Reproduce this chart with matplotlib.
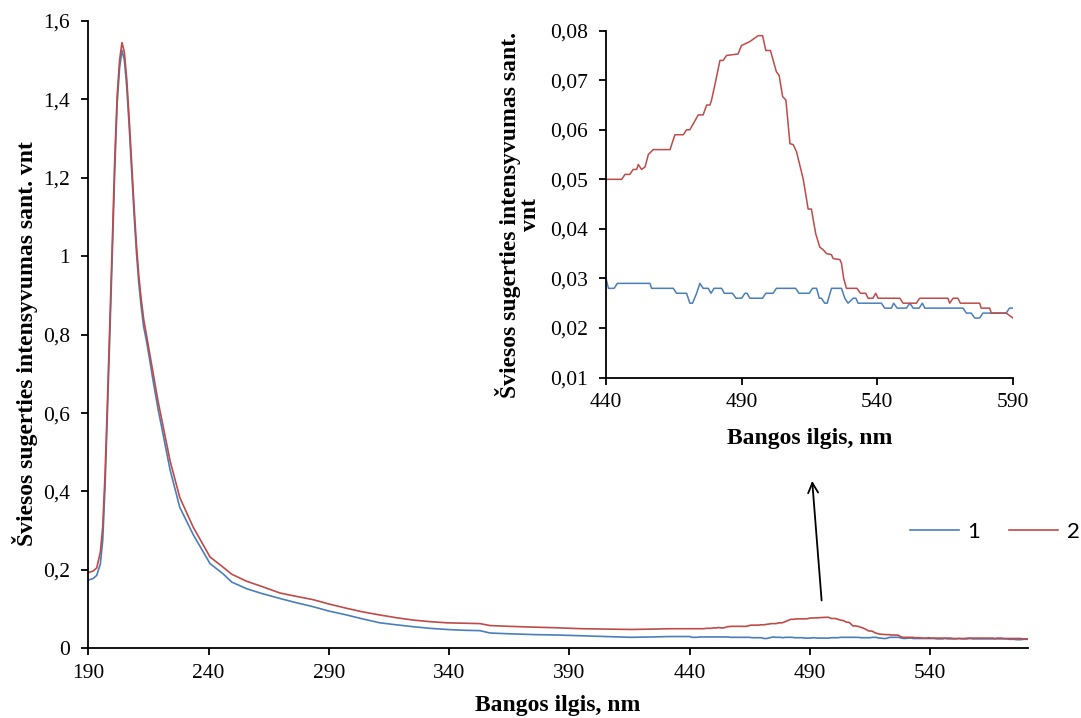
import numpy as np
import matplotlib
matplotlib.use("Agg")
import matplotlib.pyplot as plt
from matplotlib.ticker import FuncFormatter, MultipleLocator

plt.rcParams['font.family'] = ['Liberation Serif', 'DejaVu Serif']

# UV part of the spectrum (common wavelength grid for both samples)
wl_uv = [190, 192, 193.5, 195, 196, 197, 198, 199, 200, 201, 202, 203, 204, 205,
         206, 207, 208, 209, 210, 211, 212, 213, 214, 215, 217, 219, 224, 228,
         233.6, 240.6, 246, 249.6, 255.8, 262, 269.7, 276, 283.5, 290, 297.4,
         304, 311.2, 318, 325.1, 332, 339, 346, 352.8, 357, 365, 375, 384, 395,
         405, 415.6, 425, 431.5, 436]
s1_uv = [0.174, 0.178, 0.186, 0.215, 0.275, 0.42, 0.61, 0.81, 1.01, 1.22, 1.39,
         1.48, 1.525, 1.50, 1.43, 1.33, 1.22, 1.11, 1.01, 0.93, 0.87, 0.82, 0.79,
         0.755, 0.68, 0.61, 0.455, 0.36, 0.29, 0.216, 0.19, 0.169, 0.152, 0.140,
         0.127, 0.117, 0.106, 0.095, 0.085, 0.075, 0.065, 0.060, 0.055, 0.051,
         0.048, 0.046, 0.045, 0.039, 0.037, 0.035, 0.034, 0.032, 0.030, 0.028,
         0.029, 0.030, 0.030]
s2_uv = [0.193, 0.197, 0.205, 0.245, 0.31, 0.45, 0.64, 0.84, 1.04, 1.25, 1.41,
         1.50, 1.545, 1.52, 1.45, 1.35, 1.24, 1.13, 1.03, 0.95, 0.89, 0.84, 0.805,
         0.77, 0.70, 0.63, 0.478, 0.385, 0.309, 0.233, 0.207, 0.189, 0.171, 0.158,
         0.141, 0.133, 0.124, 0.113, 0.102, 0.093, 0.085, 0.078, 0.072, 0.068,
         0.065, 0.064, 0.063, 0.058, 0.056, 0.054, 0.0525, 0.050, 0.049, 0.048,
         0.049, 0.050, 0.050]

# visible part, sample 1
wl_vis_1 = [440, 440.9, 443, 444.2, 456.2, 456.8, 464.8, 466, 469.7, 470.9, 471.9,
            473.4, 474.6, 475.8, 477.7, 478.7, 479.8, 482.6, 483.6, 486.6, 487.9,
            490, 491.2, 492, 493, 497.7, 498.9, 501.6, 502.8, 509.9, 511.1, 514.9,
            516.1, 517.6, 518.6, 519.4, 520.6, 521.5, 523.1, 526.8, 528, 529.2,
            531.1, 532.1, 532.9, 541.5, 542.7, 545.2, 546, 547.3, 550.7, 552,
            553.2, 555.4, 556.6, 557.5, 571.6, 572.8, 574.6, 575.9, 577.7, 578.9,
            587.5, 588.7, 590]
s1_vis = [0.030, 0.028, 0.028, 0.029, 0.029, 0.028, 0.028, 0.027, 0.027, 0.025,
          0.025, 0.027, 0.029, 0.028, 0.028, 0.027, 0.028, 0.028, 0.027, 0.027,
          0.026, 0.026, 0.027, 0.027, 0.026, 0.026, 0.027, 0.027, 0.028, 0.028,
          0.027, 0.027, 0.028, 0.028, 0.026, 0.026, 0.025, 0.025, 0.028, 0.028,
          0.026, 0.025, 0.026, 0.026, 0.025, 0.025, 0.024, 0.024, 0.025, 0.024,
          0.024, 0.025, 0.024, 0.024, 0.025, 0.024, 0.024, 0.023, 0.023, 0.022,
          0.022, 0.023, 0.023, 0.024, 0.024]

# visible part, sample 2
wl_vis_2 = [440, 445.8, 447, 448.8, 450, 451.3, 451.9, 453.1, 454.4, 455.6, 457.4,
            463.6, 465.4, 468.5, 469.7, 470.9, 474, 475.8, 477.1, 478.3, 478.9,
            480.1, 482, 483.2, 484.4, 488.7, 489.9, 493, 496.1, 497.7, 498.9,
            500.6, 502.8, 503.8, 505.1, 506.3, 507.8, 509, 510.2, 512.7, 514.5,
            515.7, 517.3, 518.8, 520, 521.3, 523.1, 523.7, 526.2, 526.8, 527.6,
            528.6, 532.5, 533.8, 535.7, 536.6, 538.4, 539.4, 540.3, 548.3, 549.5,
            554.4, 555.6, 566, 566.7, 567.9, 569.7, 570.6, 577.7, 578.3, 581.4,
            582, 587.5, 590]
s2_vis = [0.050, 0.050, 0.051, 0.051, 0.052, 0.052, 0.053, 0.052, 0.0525, 0.055,
          0.056, 0.056, 0.059, 0.059, 0.060, 0.060, 0.063, 0.063, 0.065, 0.065,
          0.066, 0.069, 0.074, 0.074, 0.075, 0.0753, 0.077, 0.0778, 0.079, 0.079,
          0.076, 0.076, 0.0717, 0.071, 0.0667, 0.066, 0.0572, 0.057, 0.0556,
          0.050, 0.044, 0.044, 0.039, 0.0363, 0.0358, 0.035, 0.0348, 0.034,
          0.0338, 0.033, 0.030, 0.028, 0.028, 0.027, 0.027, 0.026, 0.026, 0.027,
          0.026, 0.026, 0.025, 0.025, 0.026, 0.026, 0.025, 0.026, 0.026, 0.025,
          0.025, 0.024, 0.024, 0.023, 0.023, 0.022]

BLUE = '#4A7EBB'
RED = '#BE4B48'
TICK_FS = 15.5
LABEL_FS = 17


def comma_fmt(v, pos):
    s = f"{v:.2f}".rstrip('0').rstrip('.')
    return s.replace('.', ',')


def comma_fmt2(v, pos):
    return f"{v:.2f}".replace('.', ',')


def style_axes(a):
    for s in ['top', 'right']:
        a.spines[s].set_visible(False)
    for s in ['left', 'bottom']:
        a.spines[s].set_linewidth(1.3)
    a.tick_params(direction='out', length=5, width=1.3, labelsize=TICK_FS)
    a.tick_params(axis='y', pad=8)
    a.tick_params(axis='x', pad=6)


fig = plt.figure(figsize=(10.81, 7.18), dpi=100)

# --- main chart ---
ax = fig.add_axes([88.3 / 1081, (718 - 648.3) / 718, (1028 - 88.3) / 1081, (648.3 - 21) / 718])
wl1 = np.concatenate([wl_uv, wl_vis_1])
wl2 = np.concatenate([wl_uv, wl_vis_2])
ax.plot(wl1, np.concatenate([s1_uv, s1_vis]), color=BLUE, lw=1.2, label='1')
ax.plot(wl2, np.concatenate([s2_uv, s2_vis]), color=RED, lw=1.2, label='2')
ax.set_xlim(190, 580.6)
ax.set_ylim(0, 1.6)
ax.yaxis.set_major_locator(MultipleLocator(0.2))
ax.yaxis.set_major_formatter(FuncFormatter(comma_fmt))
ax.set_xticks(np.arange(190, 541, 50))
style_axes(ax)
ax.set_xlabel('Bangos ilgis, nm', fontsize=LABEL_FS, fontweight='bold')
ax.set_ylabel('Šviesos sugerties intensyvumas sant. vnt', fontsize=LABEL_FS,
              fontweight='bold')
ax.xaxis.set_label_coords(0.5, -0.075)
ax.yaxis.set_label_coords(-0.054, 0.485)

# arrow pointing to the inset
ax.annotate('', xy=(490.8, 0.434), xytext=(494.9, 0.115),
            arrowprops=dict(arrowstyle='->', color='black', lw=1.3,
                            mutation_scale=18), annotation_clip=False)

fig.legend(handles=ax.get_lines(), labels=['1', '2'], ncol=2, frameon=False,
           loc='center', bbox_to_anchor=(995 / 1081, 1 - 532 / 718),
           prop={'family': 'Lato', 'size': 16}, handlelength=2.2,
           handletextpad=0.4, columnspacing=1.3)

# --- inset ---
axi = fig.add_axes([606 / 1081, (718 - 377.5) / 718, (1013 - 606) / 1081, (377.5 - 30.7) / 718])
axi.plot(wl_vis_1, s1_vis, color=BLUE, lw=1.1)
axi.plot(wl_vis_2, s2_vis, color=RED, lw=1.1)
axi.set_xlim(440, 590)
axi.set_ylim(0.01, 0.08)
axi.set_xticks([440, 490, 540, 590])
axi.yaxis.set_major_locator(MultipleLocator(0.01))
axi.yaxis.set_major_formatter(FuncFormatter(comma_fmt2))
axi.patch.set_alpha(0)
style_axes(axi)
axi.set_xlabel('Bangos ilgis, nm', fontsize=LABEL_FS, fontweight='bold')
axi.set_ylabel('Šviesos sugerties intensyvumas sant.\nvnt', fontsize=LABEL_FS,
               fontweight='bold', linespacing=0.9)
axi.xaxis.set_label_coords(0.5, -0.145)
axi.yaxis.set_label_coords(-0.16, 0.47)

fig.savefig('out.png', dpi=100)
